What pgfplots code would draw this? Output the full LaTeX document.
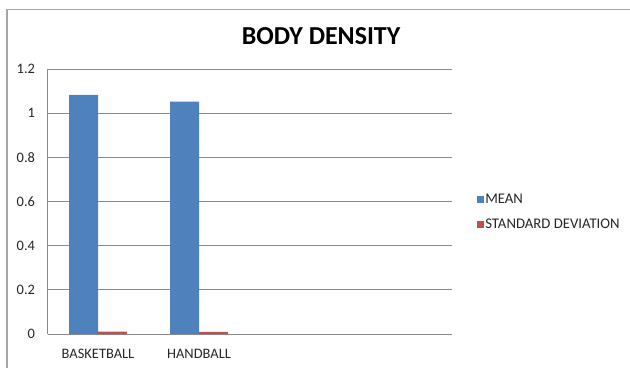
\documentclass[border=0pt]{standalone}
\usepackage{pgfplots}
\pgfplotsset{compat=1.18}
\usepackage{fontspec}
\setmainfont{Carlito}
\definecolor{exblue}{HTML}{4F81BD}
\definecolor{exred}{HTML}{C0504D}
\definecolor{gridgray}{HTML}{8A8A8A}
\definecolor{framegray}{HTML}{A6A6A6}
\begin{document}
\begin{tikzpicture}[x=1bp,y=1bp]
\useasboundingbox (0,0) rectangle (630,367);
\draw[framegray, line width=1.2bp] (7,-20) -- (7,357.5) -- (660,357.5);
\node[font=\fontsize{26}{29}\selectfont\bfseries] at (321,331) {BODY DENSITY};
\begin{axis}[
  at={(47.5bp,33bp)}, anchor=south west,
  scale only axis, width=404bp, height=265bp,
  ybar=0pt, bar width=29bp,
  xmin=-0.5, xmax=3.5, ymin=0, ymax=1.2,
  xtick={0,1}, xticklabels={BASKETBALL,HANDBALL},
  ytick={0,0.2,0.4,0.6,0.8,1,1.2},
  major tick length=0pt,
  ymajorgrids, grid style={gridgray, line width=0.9bp},
  axis x line*=bottom, axis y line*=left,
  axis line style={gridgray, line width=0.9bp},
  /pgf/number format/assume math mode=true,
  tick label style={font=\fontsize{14.5}{16}\selectfont, text=black!85},
  yticklabel style={xshift=-9bp},
  xticklabel style={yshift=-12bp},
  legend style={at={(1.062,0.46)}, anchor=west, draw=none, fill=none,
    font=\fontsize{14.8}{16}\selectfont, text=black!85,
    row sep=11bp, inner sep=0pt,
    nodes={inner sep=1.5bp}},
  legend cell align=left,
  legend image code/.code={\fill[#1] (0bp,-3.5bp) rectangle (7bp,3.5bp);},
]
\addplot[fill=exblue, draw=none] coordinates {(0,1.083) (1,1.052)};
\addplot[fill=exred, draw=none] coordinates {(0,0.011) (1,0.010)};
\legend{MEAN, STANDARD DEVIATION}
\end{axis}
\end{tikzpicture}
\end{document}
